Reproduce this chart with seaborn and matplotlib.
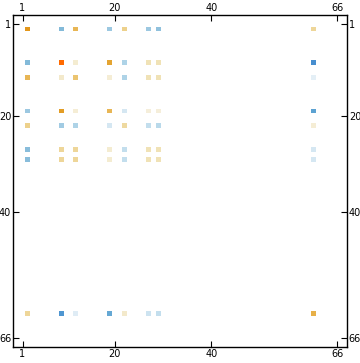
import numpy as np
import matplotlib
matplotlib.use("Agg")
import matplotlib.pyplot as plt
from matplotlib.colors import LinearSegmentedColormap
import seaborn as sns

# --- data -------------------------------------------------------------
size = 66
indices = [2, 9, 12, 19, 22, 27, 29, 61]          # 1-based rows/cols with entries
row_02 = [0.80, -0.40, 0.55, -0.30, 0.35, -0.30, -0.35, 0.30]
row_09 = [-0.40, 1.00, 0.10, 0.70, -0.22, 0.20, 0.20, -0.85]
row_12 = [0.55, 0.12, 0.45, 0.08, -0.22, 0.20, 0.20, -0.05]
row_19 = [-0.30, 0.75, 0.08, 0.55, -0.10, 0.07, 0.07, -0.60]
row_22 = [0.35, -0.28, -0.22, -0.10, 0.28, -0.15, -0.18, 0.08]
row_27 = [-0.38, 0.30, 0.30, 0.10, -0.15, 0.20, 0.20, -0.10]
row_29 = [-0.38, 0.30, 0.30, 0.10, -0.15, 0.20, 0.20, -0.10]
row_61 = [0.30, -0.75, -0.07, -0.55, 0.12, -0.12, -0.15, 0.60]
rows = [row_02, row_09, row_12, row_19, row_22, row_27, row_29, row_61]
tick_labels = [1, 20, 40, 66]

M = np.zeros((size, size))
for r, vals in zip(indices, rows):
    for c, v in zip(indices, vals):
        M[r - 1, c - 1] = v

cmap = LinearSegmentedColormap.from_list("mma", [
    (0.000, "#3A82CE"),
    (0.200, "#5CA2D2"),
    (0.300, "#84BAD9"),
    (0.400, "#B4D6E9"),
    (0.475, "#E4EFF6"),
    (0.500, "#FFFFFF"),
    (0.525, "#F6F0DE"),
    (0.600, "#F0E2B6"),
    (0.700, "#ECCB7E"),
    (0.800, "#E7B048"),
    (0.900, "#E2981C"),
    (1.000, "#FF6A00"),
])

# --- figure -----------------------------------------------------------
fig = plt.figure(figsize=(3.6, 3.63), dpi=100)
ax = fig.add_axes([13.3 / 360, (363 - 346.7) / 363, (346.7 - 13.3) / 360, (346.7 - 15) / 363])
ax.set_facecolor("white")
sns.heatmap(M, ax=ax, cmap=cmap, vmin=-1, vmax=1, cbar=False, square=False,
            mask=(M == 0), linewidths=0, xticklabels=False, yticklabels=False)

pad = 1.4
ax.set_xlim(-pad, size + pad)
ax.set_ylim(size + pad, -pad)

pos = [t - 0.5 for t in tick_labels]
ax.set_xticks(pos)
ax.set_xticklabels([str(t) for t in tick_labels])
ax.set_yticks(pos)
ax.set_yticklabels([str(t) for t in tick_labels])
ax.tick_params(axis="both", direction="in", length=4, width=0.8, labelsize=7,
               top=True, bottom=True, left=True, right=True,
               labeltop=True, labelbottom=True, labelleft=True, labelright=True,
               pad=1.5)
for lab in ax.get_yticklabels():
    lab.set_rotation(0)
for s in ax.spines.values():
    s.set_visible(True)
    s.set_linewidth(1.0)
    s.set_color("black")

fig.savefig("out.png", dpi=100)
